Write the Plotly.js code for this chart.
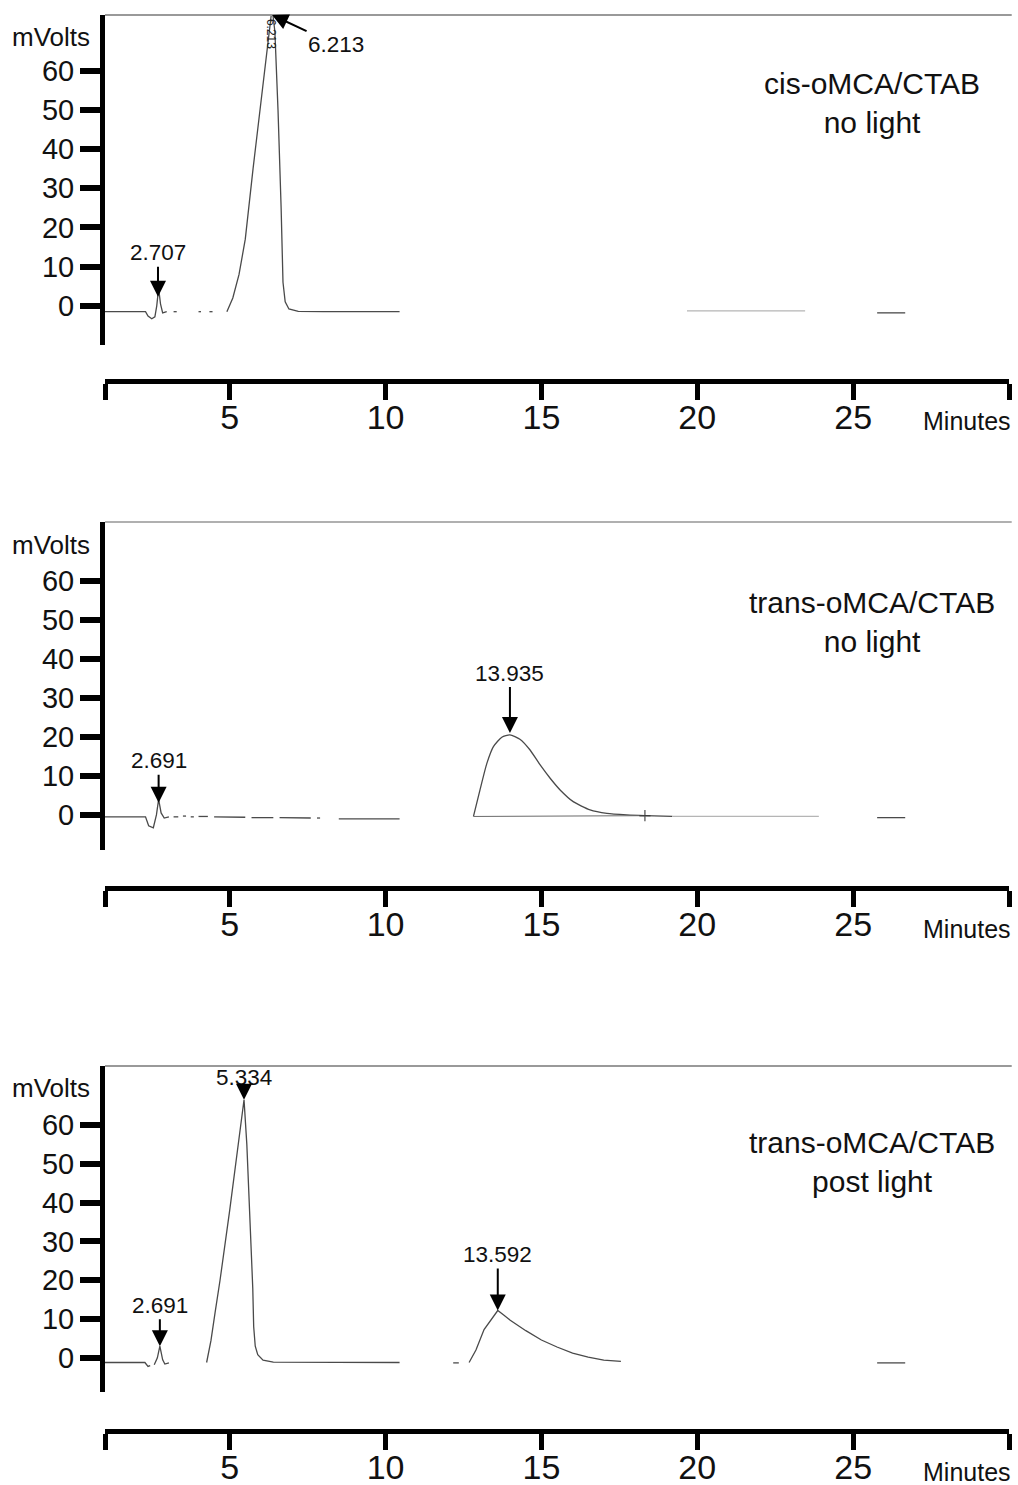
<!DOCTYPE html>
<html>
<head>
<meta charset="utf-8">
<script src="https://cdn.plot.ly/plotly-3.0.1.min.js"></script>
<style>html,body{margin:0;padding:0;background:#fff;}#chart{width:1018px;height:1485px;}</style>
</head>
<body>
<div id="chart"></div>
<script>
// ---------- DATA ----------
var xTickVals = [1, 5, 10, 15, 20, 25, 30];
var xTickText = ['', '5', '10', '15', '20', '25', ''];
var yTickVals = [0, 10, 20, 30, 40, 50, 60];
var yTickText = ['0', '10', '20', '30', '40', '50', '60'];

var panelTitles = ['cis-oMCA/CTAB<br>no light', 'trans-oMCA/CTAB<br>no light', 'trans-oMCA/CTAB<br>post light'];

// Panel 1: cis-oMCA/CTAB, no light
var p1Time = [1.0, 2.3, 2.38, 2.5, 2.6, 2.66, 2.72, 2.78, 2.85, 2.98, null, 3.2, 3.3, null, 4.0, 4.08, null, 4.35, 4.45, null,
  4.91, 5.1, 5.3, 5.5, 5.75, 6.0, 6.2, 6.36, 6.45, 6.55, 6.65, 6.71, 6.78, 6.9, 7.2, 8.0, 10.45, null, 25.77, 26.67];
var p1Signal = [-1.5, -1.5, -2.6, -3.3, -2.8, 0, 4.5, 0.5, -1.8, -1.5, null, -1.5, -1.5, null, -1.5, -1.5, null, -1.5, -1.5, null,
  -1.5, 2, 8, 17, 35, 52, 66, 76, 70, 50, 25, 6, 1, -0.8, -1.4, -1.5, -1.5, null, -1.8, -1.8];
var p1FaintTime = [19.67, 23.46];
var p1FaintSignal = [-1.3, -1.3];

// Panel 2: trans-oMCA/CTAB, no light
var p2Time = [1.0, 2.3, 2.4, 2.55, 2.65, 2.72, 2.8, 2.9, 3.05, null, 3.2, 3.35, null, 3.5, 3.6, null, 3.75, 3.85, null,
  4.0, 4.3, null, 4.5, 5.5, null, 5.7, 6.4, null, 6.6, 7.6, null, 7.8, 7.9, null, 8.5, 10.45, null, 25.77, 26.67];
var p2Signal = [-0.5, -0.5, -2.8, -3.3, 0, 4, 0.5, -0.8, -0.5, null, -0.5, -0.5, null, -0.3, -0.3, null, -0.5, -0.5, null,
  -0.4, -0.4, null, -0.5, -0.6, null, -0.7, -0.7, null, -0.7, -0.8, null, -0.8, -0.8, null, -1, -1, null, -0.7, -0.7];
var p2PeakTime = [12.82, 13.03, 13.25, 13.46, 13.73, 13.99, 14.31, 14.63, 14.96, 15.28, 15.6, 16.02, 16.56, 17.1, 17.74, 18.32, 19.2];
var p2PeakSignal = [-0.4, 6.4, 13.2, 17.5, 19.9, 20.5, 19.4, 16.7, 12.8, 9.4, 6.4, 3.4, 1.3, 0.4, 0, -0.2, -0.4];
var p2FaintTime = [19.2, 23.9];
var p2FaintSignal = [-0.4, -0.4];
var p2BaseTime = [12.82, 18.32];
var p2BaseSignal = [-0.4, -0.2];

// Panel 3: trans-oMCA/CTAB, post light
var p3Time = [1.0, 2.28, 2.38, 2.45, null, 2.58, 2.68, 2.76, 2.85, 2.92, 3.05, null,
  4.26, 4.4, 4.53, 4.69, 5.0, 5.2, 5.35, 5.46, 5.55, 5.65, 5.74, 5.77, 5.82, 5.9, 6.07, 6.4, 10.45, null,
  12.17, 12.35, null,
  12.68, 12.9, 13.16, 13.4, 13.6, 13.8, 14.0, 14.5, 15.0, 15.5, 16.0, 16.5, 17.0, 17.55, null, 25.77, 26.67];
var p3Signal = [-1.2, -1.2, -2.2, -2.0, null, -1.8, 0, 3, -0.5, -1.6, -1.3, null,
  -1.2, 4.5, 11.6, 20, 38, 50, 59.5, 66.5, 55, 37, 18, 8, 3, 0.8, -0.6, -1.1, -1.2, null,
  -1.3, -1.3, null,
  -1.2, 2, 7.3, 10, 12.2, 11, 9.7, 7, 4.6, 2.8, 1.2, 0.2, -0.6, -0.9, null, -1.3, -1.3];

// Peak labels: [time, signal, label]
var p1Peaks = [[2.70, 2.3, '2.707'], [6.36, 74.2, '6.213']];
var p2Peaks = [[2.72, 3.1, '2.691'], [13.99, 21, '13.935']];
var p3Peaks = [[2.76, 3.0, '2.691'], [5.46, 66.5, '5.334'], [13.6, 12.2, '13.592']];

// ---------- STYLE / LAYOUT ----------
var FONT = '"Liberation Sans", Arial, sans-serif';
var H = 1485, W = 1018;
function py(px) { return 1 - px / H; }

var lineStyle = {color: '#4a4a4a', width: 1.3};
var faintStyle = {color: '#b5b5b5', width: 1.3};

var traces = [
  {x: p1Time, y: p1Signal, xaxis: 'x', yaxis: 'y', mode: 'lines', line: lineStyle, connectgaps: false},
  {x: p1FaintTime, y: p1FaintSignal, xaxis: 'x', yaxis: 'y', mode: 'lines', line: faintStyle},
  {x: p2Time, y: p2Signal, xaxis: 'x2', yaxis: 'y2', mode: 'lines', line: lineStyle, connectgaps: false},
  {x: p2PeakTime, y: p2PeakSignal, xaxis: 'x2', yaxis: 'y2', mode: 'lines',
   line: {color: '#4a4a4a', width: 1.3, shape: 'spline', smoothing: 0.6}},
  {x: p2FaintTime, y: p2FaintSignal, xaxis: 'x2', yaxis: 'y2', mode: 'lines', line: faintStyle},
  {x: p2BaseTime, y: p2BaseSignal, xaxis: 'x2', yaxis: 'y2', mode: 'lines+markers', line: {color: '#6a6a6a', width: 1},
   marker: {symbol: ['line-ns', 'cross-thin'], size: [0, 8], color: '#333', line: {color: '#333', width: 1.5}}},
  {x: p3Time, y: p3Signal, xaxis: 'x3', yaxis: 'y3', mode: 'lines', line: lineStyle, connectgaps: false}
];

var xDomain = [105 / W, 1009 / W];
function xAxis(posPx) {
  return {
    domain: xDomain, range: [1, 30], anchor: 'free', position: py(posPx),
    showline: true, linewidth: 5, linecolor: '#000',
    ticks: 'outside', ticklen: 16, tickwidth: 5, tickcolor: '#000',
    tickvals: xTickVals, ticktext: xTickText, ticklabelstandoff: -12,
    tickfont: {family: FONT, size: 34, color: '#111'},
    showgrid: false, zeroline: false, fixedrange: true
  };
}
function yAxis(anchor, topPx, botPx, range) {
  return {
    domain: [py(botPx), py(topPx)], range: range, anchor: anchor,
    showline: true, linewidth: 5, linecolor: '#000',
    ticks: 'outside', ticklen: 20, tickwidth: 6, tickcolor: '#000',
    tickvals: yTickVals, ticktext: yTickText,
    tickfont: {family: FONT, size: 29, color: '#111'},
    showgrid: false, zeroline: false, fixedrange: true
  };
}

var annotations = [];
function addPanelText(yr, mvY, minutesPx) {
  annotations.push({xref: 'paper', yref: yr, x: 51 / W, y: mvY, text: 'mVolts', showarrow: false,
    xanchor: 'center', yanchor: 'middle', font: {family: FONT, size: 26, color: '#111'}});
  annotations.push({xref: 'paper', yref: 'paper', x: 967 / W, y: py(minutesPx), text: 'Minutes', showarrow: false,
    xanchor: 'center', yanchor: 'middle', font: {family: FONT, size: 25, color: '#111'}});
}
addPanelText('y', 68.6, 421);
addPanelText('y2', 69.2, 929);
addPanelText('y3', 69.6, 1472);

var titleYs = [51.8, 49.4, 50.5];
['y', 'y2', 'y3'].forEach(function (yr, i) {
  annotations.push({xref: 'paper', yref: yr, x: 872 / W, y: titleYs[i], text: panelTitles[i], showarrow: false,
    xanchor: 'center', yanchor: 'middle', font: {family: FONT, size: 30, color: '#111'}, align: 'center'});
});

function addPeaks(peaks, xr, yr, offsets) {
  peaks.forEach(function (p, i) {
    annotations.push({xref: xr, yref: yr, x: p[0], y: p[1], text: p[2], showarrow: true,
      ax: offsets[i][0], ay: offsets[i][1], arrowhead: 2, arrowsize: 1.6, arrowwidth: 2, arrowcolor: '#000',
      font: {family: FONT, size: 22.5, color: '#111'}});
  });
}
addPeaks(p1Peaks, 'x', 'y', [[0, -44], [64, 30]]);
addPeaks(p2Peaks, 'x2', 'y2', [[0, -42], [0, -60]]);
addPeaks(p3Peaks, 'x3', 'y3', [[0, -41], [0, -22], [0, -56]]);
// small rotated label on top of the first big peak
annotations.push({xref: 'x', yref: 'y', x: p1Peaks[1][0] - 0.05, y: 69.5, text: p1Peaks[1][2], showarrow: false,
  xanchor: 'center', yanchor: 'middle', textangle: 90, font: {family: FONT, size: 12, color: '#222'}});

var shapes = [['x', 'y'], ['x2', 'y2'], ['x3', 'y3']].map(function (a, i) {
  return {type: 'line', xref: a[0] + ' domain', yref: a[1] + ' domain', x0: 0, x1: 1.003, y0: 1, y1: 1,
    line: {color: i === 1 ? '#b0b0b0' : '#999', width: 2}};
});

var layout = {
  width: W, height: H, margin: {l: 0, r: 0, t: 0, b: 0},
  paper_bgcolor: '#fff', plot_bgcolor: '#fff', showlegend: false,
  xaxis: xAxis(381), yaxis: yAxis('x', 15, 345, [-10, 74.2]),
  xaxis2: xAxis(888), yaxis2: yAxis('x2', 522, 850, [-9, 75.1]),
  xaxis3: xAxis(1431), yaxis3: yAxis('x3', 1066, 1392, [-8.8, 75.2]),
  annotations: annotations, shapes: shapes
};

Plotly.newPlot('chart', traces, layout, {staticPlot: true, displayModeBar: false});
</script>
</body>
</html>
